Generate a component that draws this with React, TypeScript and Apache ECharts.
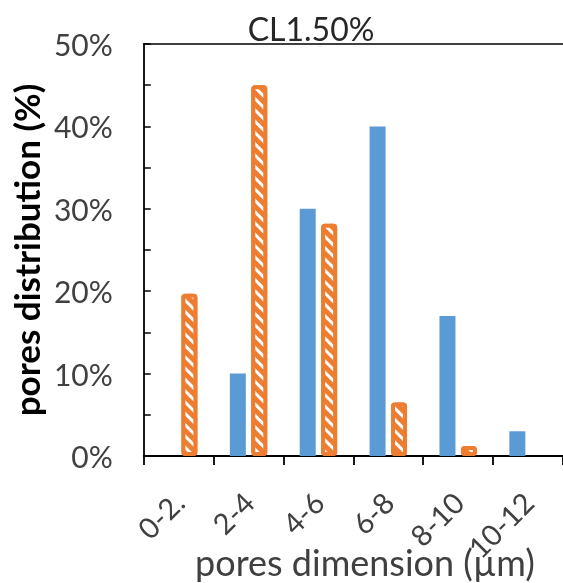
import React, { useEffect, useRef } from "react";
import * as echarts from "echarts";

const categories = ["0-2.", "2-4", "4-6", "6-8", "8-10", "10-12"];
const seriesBlue = [0, 10, 30, 40, 17, 3];
const seriesOrange = [19.7, 45, 28.2, 6.5, 1.2, 0];
const yTicks = [0, 5, 10, 15, 20, 25, 30, 35, 40, 45, 50];
const titleText = "CL1.50%";
const xName = "pores dimension (µm)";
const yName = "pores distribution (%)";

export default function App() {
  const ref = useRef<HTMLDivElement>(null);
  useEffect(() => {
    if (!ref.current) return;
    const chart = echarts.init(ref.current, undefined, { renderer: "svg" });
    const font = "Lato, 'Noto Sans', sans-serif";
    const orangeData = seriesOrange.map((v) =>
      v === 0 ? { value: v, itemStyle: { borderWidth: 0 } } : v
    );
    chart.setOption({
      animation: false,
      grid: { left: 143, top: 44, width: 428, height: 412 },
      xAxis: [
        {
          type: "category",
          data: categories,
          axisLine: { lineStyle: { color: "#000", width: 1.8 } },
          axisTick: { show: true, inside: false, length: 9, lineStyle: { color: "#000", width: 1.8 }, alignWithLabel: false },
          axisLabel: { rotate: 45, margin: 41, fontSize: 29, fontFamily: font, color: "#404040", interval: 0 },
          splitLine: { show: false },
        },
        {
          type: "category",
          data: categories,
          position: "top",
          axisLine: { show: true, lineStyle: { color: "#000", width: 1.5 } },
          axisTick: { show: false },
          axisLabel: { show: false },
          splitLine: { show: false },
        },
      ],
      yAxis: {
        type: "value",
        min: yTicks[0],
        max: yTicks[yTicks.length - 1],
        interval: 5,
        axisLine: { show: true, lineStyle: { color: "#000", width: 1.8 } },
        axisTick: { show: true, inside: true, length: 7, lineStyle: { color: "#000", width: 1.5 } },
        axisLabel: {
          margin: 31,
          fontSize: 30,
          fontFamily: font,
          color: "#404040",
          formatter: (v: number) => (v % 10 === 0 ? v + "%" : ""),
        },
        splitLine: { show: false },
        name: yName,
        nameLocation: "middle",
        nameGap: 92,
        nameTextStyle: { fontSize: 35, fontWeight: "bold", fontFamily: font, color: "#000" },
      },
      series: [
        {
          type: "bar",
          name: "blue",
          data: seriesBlue,
          barWidth: 16,
          barGap: "34%",
          itemStyle: { color: "#5B9BD5" },
        },
        {
          type: "bar",
          name: "orange",
          data: orangeData,
          barWidth: 16,
          itemStyle: {
            color: "#ED7D31",
            borderColor: "#ED7D31",
            borderWidth: 4,
            borderRadius: 2,
            decal: {
              symbol: "rect",
              symbolSize: 1,
              color: "#ffffff",
              dashArrayX: [1, 0],
              dashArrayY: [3, 5],
              rotation: Math.PI / 4,
            },
          },
        },
      ],
      graphic: [
        {
          type: "text",
          x: 311,
          y: 28,
          style: { text: titleText, font: "32px Lato, 'Noto Sans', sans-serif", fill: "#262626", textAlign: "center", textVerticalAlign: "middle" },
        },
        {
          type: "text",
          x: 365,
          y: 562,
          style: { text: xName, font: "36px Lato, 'Noto Sans', sans-serif", fill: "#404040", textAlign: "center", textVerticalAlign: "middle" },
        },
      ],
    });
    return () => chart.dispose();
  }, []);
  return <div ref={ref} style={{ position: "fixed", left: 0, top: 0, width: 563, height: 583 }} />;
}
